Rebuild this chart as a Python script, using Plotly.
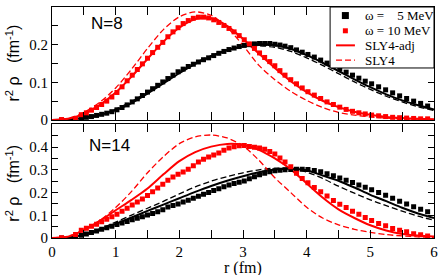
import plotly.graph_objects as go

# ---------------- data ----------------
r_pts = [0.15, 0.37, 0.46, 0.54, 0.62, 0.70, 0.78, 0.86, 0.94, 1.02, 1.10, 1.18, 1.26, 1.34, 1.42,
         1.50, 1.58, 1.66, 1.74, 1.82, 1.90, 1.98, 2.06, 2.14, 2.22, 2.30, 2.38, 2.46, 2.54, 2.62,
         2.70, 2.78, 2.86, 2.94, 3.02, 3.10, 3.18, 3.26, 3.34, 3.42, 3.50, 3.58, 3.66, 3.75, 3.84,
         3.93, 4.02, 4.12, 4.22, 4.32, 4.42, 4.52, 4.62, 4.72, 4.82, 4.92, 5.02, 5.13, 5.24, 5.35,
         5.46, 5.57, 5.68, 5.79, 5.90]

# N=8, omega = 5 MeV
n8_w5 = [0.000, 0.002, 0.004, 0.007, 0.009, 0.012, 0.015, 0.018, 0.022, 0.027, 0.033, 0.040, 0.048, 0.056, 0.065,
         0.074, 0.083, 0.092, 0.101, 0.110, 0.119, 0.128, 0.135, 0.142, 0.148, 0.154, 0.160, 0.165, 0.171, 0.177,
         0.182, 0.187, 0.191, 0.195, 0.198, 0.200, 0.202, 0.203, 0.203, 0.203, 0.201, 0.199, 0.196, 0.192, 0.186,
         0.180, 0.174, 0.167, 0.159, 0.151, 0.143, 0.135, 0.127, 0.119, 0.111, 0.103, 0.096, 0.088, 0.080, 0.072,
         0.064, 0.057, 0.050, 0.044, 0.037]
# N=8, omega = 10 MeV
n8_w10 = [0.001, 0.004, 0.014, 0.019, 0.026, 0.033, 0.041, 0.050, 0.061, 0.073, 0.088, 0.104, 0.119, 0.134, 0.149,
          0.164, 0.179, 0.193, 0.206, 0.221, 0.234, 0.245, 0.256, 0.264, 0.270, 0.273, 0.273, 0.271, 0.266, 0.259,
          0.251, 0.243, 0.234, 0.224, 0.213, 0.202, 0.190, 0.178, 0.166, 0.155, 0.144, 0.131, 0.119, 0.107, 0.096,
          0.085, 0.075, 0.066, 0.057, 0.048, 0.041, 0.034, 0.028, 0.023, 0.019, 0.016, 0.013, 0.011, 0.009, 0.007,
          0.006, 0.005, 0.004, 0.003, 0.003]
# N=14, omega = 5 MeV
n14_w5 = [0.000, 0.002, 0.012, 0.018, 0.024, 0.031, 0.038, 0.045, 0.052, 0.059, 0.066, 0.073, 0.080, 0.087, 0.094,
          0.101, 0.108, 0.116, 0.124, 0.136, 0.143, 0.150, 0.158, 0.166, 0.175, 0.184, 0.192, 0.200, 0.209, 0.217,
          0.226, 0.233, 0.240, 0.245, 0.251, 0.261, 0.270, 0.278, 0.285, 0.291, 0.296, 0.298, 0.300, 0.301, 0.302,
          0.303, 0.301, 0.297, 0.291, 0.283, 0.274, 0.264, 0.254, 0.244, 0.233, 0.223, 0.212, 0.200, 0.188, 0.175,
          0.162, 0.150, 0.138, 0.127, 0.116]
# N=14, omega = 10 MeV
n14_w10 = [0.001, 0.015, 0.034, 0.043, 0.052, 0.061, 0.071, 0.082, 0.093, 0.105, 0.118, 0.131, 0.145, 0.158, 0.172,
           0.187, 0.203, 0.220, 0.237, 0.254, 0.268, 0.280, 0.290, 0.303, 0.318, 0.334, 0.346, 0.356, 0.365, 0.374,
           0.386, 0.396, 0.402, 0.406, 0.407, 0.403, 0.399, 0.396, 0.390, 0.381, 0.370, 0.352, 0.334, 0.314, 0.285,
           0.262, 0.243, 0.222, 0.204, 0.185, 0.165, 0.148, 0.134, 0.118, 0.104, 0.090, 0.077, 0.064, 0.054, 0.042,
           0.034, 0.027, 0.019, 0.014, 0.009]

r_line = [0.0, 0.25, 0.5, 0.75, 1.0, 1.25, 1.5, 1.75, 2.0, 2.25, 2.5, 2.75, 3.0, 3.25, 3.5, 3.75,
          4.0, 4.25, 4.5, 4.75, 5.0, 5.25, 5.5, 5.75, 6.0]

n8_w5_adj = [0, 0.001, 0.005, 0.013, 0.026, 0.045, 0.070, 0.097, 0.124, 0.149, 0.169, 0.185, 0.196, 0.201, 0.199,
             0.189, 0.172, 0.152, 0.130, 0.108, 0.087, 0.068, 0.052, 0.039, 0.028]
n8_w5_sly4 = [0, 0.001, 0.006, 0.015, 0.029, 0.049, 0.074, 0.101, 0.128, 0.152, 0.171, 0.186, 0.195, 0.197, 0.193,
              0.182, 0.165, 0.145, 0.123, 0.101, 0.081, 0.063, 0.048, 0.035, 0.025]
n8_w10_adj = [0, 0.003, 0.016, 0.040, 0.073, 0.115, 0.162, 0.208, 0.245, 0.268, 0.270, 0.250, 0.215, 0.176, 0.138,
              0.103, 0.074, 0.051, 0.034, 0.022, 0.014, 0.008, 0.005, 0.003, 0.002]
n8_w10_sly4 = [0, 0.004, 0.020, 0.047, 0.085, 0.135, 0.190, 0.240, 0.274, 0.287, 0.278, 0.246, 0.198, 0.145, 0.107,
               0.076, 0.052, 0.033, 0.020, 0.013, 0.008, 0.005, 0.003, 0.002, 0.001]

n14_w5_adj = [0, 0.002, 0.014, 0.035, 0.062, 0.090, 0.119, 0.147, 0.175, 0.203, 0.229, 0.252, 0.272, 0.289, 0.301,
              0.305, 0.298, 0.275, 0.252, 0.222, 0.190, 0.162, 0.133, 0.108, 0.088]
n14_w5_sly4 = [0, 0.002, 0.016, 0.040, 0.070, 0.101, 0.131, 0.161, 0.194, 0.225, 0.250, 0.270, 0.287, 0.300, 0.307,
               0.305, 0.290, 0.262, 0.228, 0.197, 0.168, 0.142, 0.118, 0.096, 0.078]
n14_w10_adj = [0, 0.006, 0.035, 0.075, 0.122, 0.168, 0.218, 0.280, 0.338, 0.378, 0.402, 0.414, 0.410, 0.388, 0.350,
               0.302, 0.240, 0.178, 0.126, 0.088, 0.056, 0.033, 0.018, 0.011, 0.007]
n14_w10_sly4 = [0, 0.008, 0.036, 0.077, 0.134, 0.205, 0.287, 0.358, 0.415, 0.445, 0.453, 0.440, 0.405, 0.342, 0.265,
                0.200, 0.135, 0.088, 0.058, 0.038, 0.025, 0.015, 0.009, 0.005, 0.003]

legend_labels = ["\u03c9 =\u00a0\u00a0\u00a0\u00a05 MeV", "\u03c9 = 10 MeV", "SLY4-adj", "SLY4"]

# ---------------- figure ----------------
RED = "#ff0000"
BLK = "#000000"
SERIF = "Liberation Serif"
SANS = "Liberation Sans"
DASH = "6px,3px"

fig = go.Figure()

def line(x, y, color, dashed, xa, ya, name=None):
    fig.add_trace(go.Scatter(
        x=x, y=y, mode="lines", xaxis=xa, yaxis=ya, name=name, showlegend=False,
        line=dict(color=color, width=1.3 if dashed else 2, dash=DASH if dashed else "solid",
                  shape="spline", smoothing=0.8)))

def pts(x, y, color, xa, ya, name=None, size=5):
    fig.add_trace(go.Scatter(
        x=x, y=y, mode="markers", xaxis=xa, yaxis=ya, name=name, showlegend=False,
        marker=dict(symbol="square", size=size, color=color, line=dict(width=0))))

# top panel (N=8)
line(r_line, n8_w5_sly4, BLK, True, "x2", "y2", legend_labels[3])
line(r_line, n8_w5_adj, BLK, False, "x2", "y2", legend_labels[2])
line(r_line, n8_w10_sly4, RED, True, "x2", "y2", legend_labels[3])
line(r_line, n8_w10_adj, RED, False, "x2", "y2", legend_labels[2])
pts(r_pts, n8_w5, BLK, "x2", "y2", legend_labels[0])
pts(r_pts, n8_w10, RED, "x2", "y2", legend_labels[1])
# bottom panel (N=14)
line(r_line, n14_w5_sly4, BLK, True, "x", "y", legend_labels[3])
line(r_line, n14_w5_adj, BLK, False, "x", "y", legend_labels[2])
line(r_line, n14_w10_sly4, RED, True, "x", "y", legend_labels[3])
line(r_line, n14_w10_adj, RED, False, "x", "y", legend_labels[2])
pts(r_pts, n14_w5, BLK, "x", "y", legend_labels[0])
pts(r_pts, n14_w10, RED, "x", "y", legend_labels[1])

axis_common = dict(showgrid=False, zeroline=False, showline=True, linecolor=BLK, linewidth=1,
                   mirror="allticks", ticks="inside", tickcolor=BLK, tickwidth=1,
                   tickfont=dict(family=SERIF, size=15, color=BLK))

fig.update_layout(
    width=443, height=275,
    margin=dict(l=52, r=5, t=7, b=37),
    paper_bgcolor="white", plot_bgcolor="white",
    showlegend=False,
    xaxis=dict(domain=[0, 1], anchor="y", range=[0, 6], dtick=1, ticklen=8,
               minor=dict(dtick=0.5, ticklen=8, ticks="inside", tickcolor=BLK), **axis_common),
    xaxis2=dict(domain=[0, 1], anchor="y2", range=[0, 6], dtick=1, ticklen=8, showticklabels=False,
                minor=dict(dtick=0.5, ticklen=8, ticks="inside", tickcolor=BLK), **axis_common),
    yaxis=dict(domain=[0, 0.492], anchor="x", range=[0, 0.5], tickvals=[0, 0.1, 0.2, 0.3, 0.4],
               ticktext=["0", "0.1", "0.2", "0.3", "0.4"], ticklen=6,
               minor=dict(dtick=0.05, ticklen=6, ticks="inside", tickcolor=BLK), **axis_common),
    yaxis2=dict(domain=[0.511, 1], anchor="x2", range=[0, 0.3], tickvals=[0, 0.1, 0.2, 0.3],
                ticktext=["0", "0.1", "0.2", "0.3"], ticklen=6,
                minor=dict(dtick=0.05, ticklen=6, ticks="inside", tickcolor=BLK), **axis_common),
)

# ---- legend box (drawn as layout decoration, compact like the original) ----
leg_x0, leg_x1, leg_y0, leg_y1 = 0.728, 1.0, 0.736, 1.0
row_y = [0.963, 0.897, 0.834, 0.770]
sym_x0, sym_x1, sym_xc, txt_x = 0.7435, 0.793, 0.768, 0.814
shapes = [
    dict(type="rect", xref="paper", yref="paper", x0=leg_x0, x1=leg_x1, y0=leg_y0, y1=leg_y1,
         line=dict(color=BLK, width=1), fillcolor="white", layer="above"),
    dict(type="rect", xref="paper", yref="paper", xsizemode="pixel", ysizemode="pixel",
         xanchor=sym_xc, yanchor=row_y[0], x0=-3.5, x1=3.5, y0=-3.5, y1=3.5,
         line=dict(width=0), fillcolor=BLK, layer="above"),
    dict(type="rect", xref="paper", yref="paper", xsizemode="pixel", ysizemode="pixel",
         xanchor=sym_xc, yanchor=row_y[1], x0=-2.5, x1=2.5, y0=-2.5, y1=2.5,
         line=dict(width=0), fillcolor=RED, layer="above"),
    dict(type="line", xref="paper", yref="paper", x0=sym_x0, x1=sym_x1, y0=row_y[2], y1=row_y[2],
         line=dict(color=RED, width=2), layer="above"),
    dict(type="line", xref="paper", yref="paper", x0=sym_x0, x1=sym_x1, y0=row_y[3], y1=row_y[3],
         line=dict(color=RED, width=1.3, dash=DASH), layer="above"),
]
fig.update_layout(shapes=shapes)

ytitle = "r<sup>2</sup>\u00a0\u03c1\u00a0\u00a0\u00a0(fm<sup>-1</sup>)"
ann = [
    dict(text="N=8", x=0.87, y=0.257, xref="x2", yref="y2", showarrow=False,
         font=dict(family=SANS, size=17, color=BLK)),
    dict(text="N=14", x=0.90, y=0.405, xref="x", yref="y", showarrow=False,
         font=dict(family=SANS, size=17, color=BLK)),
    dict(text="r (fm)", x=0.5, y=-0.128, xref="paper", yref="paper", showarrow=False,
         xanchor="center", yanchor="middle", font=dict(family=SERIF, size=16, color=BLK)),
    dict(text=ytitle, x=-0.103, y=0.758, xref="paper", yref="paper", xanchor="center", yanchor="middle",
         showarrow=False, textangle=-90, font=dict(family=SANS, size=16, color=BLK)),
    dict(text=ytitle, x=-0.103, y=0.238, xref="paper", yref="paper", xanchor="center", yanchor="middle",
         showarrow=False, textangle=-90, font=dict(family=SANS, size=16, color=BLK)),
]
for lbl, yy in zip(legend_labels, row_y):
    ann.append(dict(text=lbl, x=txt_x, y=yy, xref="paper", yref="paper", xanchor="left",
                    yanchor="middle", showarrow=False, font=dict(family=SERIF, size=13, color=BLK)))
fig.update_layout(annotations=ann)

fig.write_html("out.html", config={"displayModeBar": False},
               post_script="document.body.style.margin='0';document.body.style.padding='0';")
